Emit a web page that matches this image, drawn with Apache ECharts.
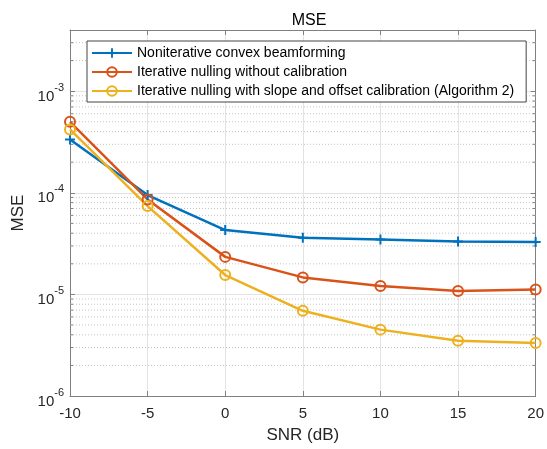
<!DOCTYPE html>
<html>
<head>
<meta charset="utf-8">
<script src="https://cdn.jsdelivr.net/npm/echarts@6.0.0/dist/echarts.min.js"></script>
<style>
  html, body { margin: 0; padding: 0; background: #fff; }
  #chart { width: 547px; height: 449px; }
</style>
</head>
<body>
<div id="chart"></div>
<script>
const snr = [-10, -5, 0, 5, 10, 15, 20];
const nonIterative = [3.35e-4, 9.5e-5, 4.3e-5, 3.6e-5, 3.47e-5, 3.32e-5, 3.28e-5];
const noCalibration = [5.0e-4, 8.6e-5, 2.34e-5, 1.47e-5, 1.21e-5, 1.08e-5, 1.12e-5];
const withCalibration = [4.2e-4, 7.4e-5, 1.55e-5, 6.9e-6, 4.5e-6, 3.5e-6, 3.33e-6];
const seriesNames = [
    'Noniterative convex beamforming',
    'Iterative nulling without calibration',
    'Iterative nulling with slope and offset calibration (Algorithm 2)'
];
const colors = ['#0072BD', '#D95319', '#EDB120'];

// minor log grid: 2..9 in each decade up to the top of the axis
const yMin = 1e-6, yMax = 4e-3;
const minorValues = [];
for (let d = -6; d <= -3; d++) {
    for (let k = 2; k <= 9; k++) {
        const v = k * Math.pow(10, d);
        if (v < yMax * 0.999) minorValues.push(v);
    }
}

const font = 'Liberation Sans, Arial, sans-serif';
const axisColor = '#808080';
const textColor = '#262626';

const chart = echarts.init(document.getElementById('chart'));

function expLabel(value) {
    const e = Math.round(Math.log10(value));
    if (Math.abs(value - Math.pow(10, e)) / value > 0.01) return '';
    return '{b|10}{s|' + e + '}';
}

const plusSymbol = 'path://M4,0H6V4H10V6H6V10H4V6H0V4H4Z';

function lineSeries(name, values, color, circle) {
    return {
        name: name,
        type: 'line',
        data: snr.map((x, i) => [x, values[i]]),
        symbol: circle ? 'circle' : plusSymbol,
        symbolSize: circle ? 10 : 10,
        showAllSymbol: true,
        lineStyle: { width: 2.5, color: color },
        itemStyle: circle
            ? { color: 'rgba(255,255,255,0)', borderColor: color, borderWidth: 2 }
            : { color: color },
        emphasis: { disabled: true },
        z: 5
    };
}

const option = {
    animation: false,
    textStyle: { fontFamily: font },
    title: {
        text: 'MSE',
        left: 304,
        top: 8,
        textAlign: 'center',
        textStyle: { fontSize: 16, fontWeight: 'normal', color: '#000', fontFamily: font }
    },
    grid: { left: 70, right: 8, top: 30, bottom: 49 },
    legend: {
        data: seriesNames,
        orient: 'vertical',
        left: 87,
        top: 41,
        padding: [5, 12, 4, 4],
        itemGap: 5,
        itemWidth: 40,
        itemHeight: 12,
        backgroundColor: '#fff',
        borderColor: '#444',
        borderWidth: 1,
        textStyle: { fontSize: 14, color: '#000', fontFamily: font }
    },
    xAxis: [{
        type: 'value',
        min: -10,
        max: 20,
        interval: 5,
        name: 'SNR (dB)',
        nameLocation: 'middle',
        nameGap: 31,
        nameTextStyle: { fontSize: 17, color: textColor, fontFamily: font },
        axisLine: { show: true, onZero: false, lineStyle: { color: axisColor } },
        axisTick: { inside: true, length: 5, lineStyle: { color: axisColor } },
        axisLabel: { fontSize: 15, color: textColor, margin: 10, fontFamily: font },
        splitLine: { show: true, lineStyle: { color: '#e3e3e3' } }
    }, {
        type: 'value',
        position: 'top',
        min: -10,
        max: 20,
        interval: 5,
        axisLine: { show: true, onZero: false, lineStyle: { color: axisColor } },
        axisTick: { inside: true, length: 5, lineStyle: { color: axisColor } },
        axisLabel: { show: false },
        splitLine: { show: false }
    }],
    yAxis: [{
        type: 'log',
        logBase: 10,
        min: yMin,
        max: yMax,
        splitNumber: 4,
        name: 'MSE',
        nameLocation: 'middle',
        nameGap: 31,
        nameTextStyle: { fontSize: 17, color: textColor, fontFamily: font },
        axisLine: { show: true, onZero: false, lineStyle: { color: axisColor } },
        axisTick: { inside: true, length: 5, lineStyle: { color: axisColor } },
        axisLabel: {
            formatter: expLabel,
            showMaxLabel: false,
            margin: 6,
            padding: [4, 0, 0, 0],
            rich: {
                b: { fontSize: 15, color: textColor, lineHeight: 22, verticalAlign: 'bottom', fontFamily: font },
                s: { fontSize: 11, color: textColor, lineHeight: 12, verticalAlign: 'top', fontFamily: font }
            }
        },
        splitLine: { show: true, lineStyle: { color: '#e3e3e3' } }
    }, {
        type: 'log',
        logBase: 10,
        position: 'right',
        min: yMin,
        max: yMax,
        splitNumber: 4,
        axisLine: { show: true, onZero: false, lineStyle: { color: axisColor } },
        axisTick: { inside: true, length: 5, lineStyle: { color: axisColor } },
        axisLabel: { show: false },
        splitLine: { show: false }
    }],
    series: [
        {
            type: 'custom',
            name: 'minor',
            silent: true,
            xAxisIndex: 0,
            yAxisIndex: 0,
            z: 1,
            data: minorValues.map(v => [-10, v]),
            encode: { x: 0, y: 1 },
            renderItem: function (params, api) {
                const v = api.value(1);
                const a = api.coord([-10, v]);
                const b = api.coord([20, v]);
                return {
                    type: 'group',
                    children: [
                        {
                            type: 'line',
                            shape: { x1: a[0], y1: a[1], x2: b[0], y2: b[1] },
                            style: { stroke: '#c4c4c4', lineWidth: 1, lineDash: [1, 2] }
                        },
                        {
                            type: 'line',
                            shape: { x1: a[0], y1: a[1], x2: a[0] + 3, y2: a[1] },
                            style: { stroke: axisColor, lineWidth: 1 }
                        },
                        {
                            type: 'line',
                            shape: { x1: b[0] - 3, y1: b[1], x2: b[0], y2: b[1] },
                            style: { stroke: axisColor, lineWidth: 1 }
                        }
                    ]
                };
            }
        },
        lineSeries(seriesNames[0], nonIterative, colors[0], false),
        lineSeries(seriesNames[1], noCalibration, colors[1], true),
        lineSeries(seriesNames[2], withCalibration, colors[2], true)
    ]
};

chart.setOption(option);
</script>
</body>
</html>
